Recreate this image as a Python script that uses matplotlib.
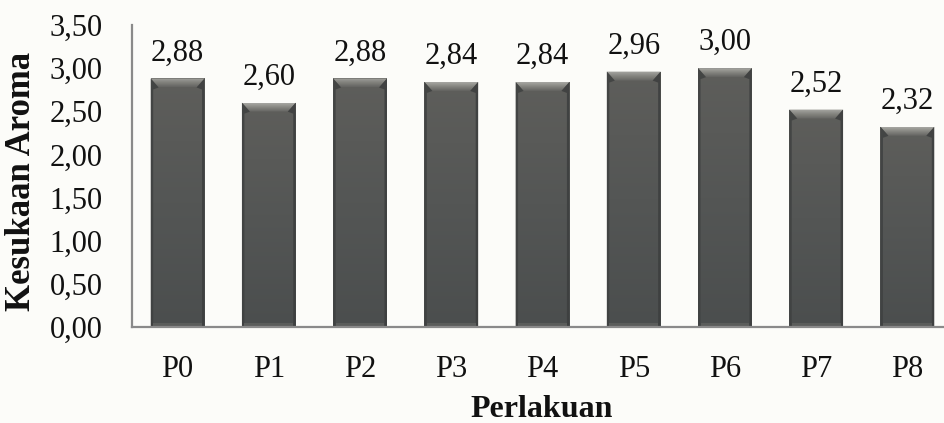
import numpy as np
import matplotlib
matplotlib.use("Agg")
import matplotlib.pyplot as plt
from matplotlib.patches import Polygon, Rectangle
from matplotlib.colors import LinearSegmentedColormap

# Data
categories = ["P0", "P1", "P2", "P3", "P4", "P5", "P6", "P7", "P8"]
scores = [2.88, 2.60, 2.88, 2.84, 2.84, 2.96, 3.00, 2.52, 2.32]
y_ticks = [0.0, 0.5, 1.0, 1.5, 2.0, 2.5, 3.0, 3.5]

plt.rcParams["font.family"] = ["Liberation Serif", "DejaVu Serif"]
FS = 22

W, H = 944, 423
fig = plt.figure(figsize=(W / 100, H / 100), dpi=100)
bg = "#fcfcf9"
fig.patch.set_facecolor(bg)

ax_left, ax_right, ax_top, ax_bottom = 132, 953, 25, 327
ax = fig.add_axes([ax_left / W, (H - ax_bottom) / H,
                   (ax_right - ax_left) / W, (ax_bottom - ax_top) / H])
ax.set_facecolor("none")

x = np.arange(len(categories))
bar_w = 0.59
ax.set_xlim(-0.5, len(categories) - 0.5)
ax.set_ylim(0, 3.5)

# pixel -> data unit conversions for the bevel sizes
px_x = len(categories) / (ax_right - ax_left)
px_y = 3.5 / (ax_bottom - ax_top)

grad = np.linspace(0, 1, 256).reshape(-1, 1)
bar_cmap = LinearSegmentedColormap.from_list("barfill", ["#4b4e4e", "#545655", "#5e5e5b"])
top_cmap = LinearSegmentedColormap.from_list("bevel", ["#636360", "#84847f", "#a8a8a4"])

bars = ax.bar(x, scores, width=bar_w, color="none", edgecolor="none", zorder=2)
for b, v in zip(bars, scores):
    x0, x1 = b.get_x(), b.get_x() + b.get_width()
    im = ax.imshow(grad, cmap=bar_cmap, aspect="auto", origin="lower",
                   extent=[x0, x1, 0, v], zorder=2, interpolation="bilinear")
    im.set_clip_path(b)
    bx, by = 8 * px_x, 9 * px_y
    # top bevel with a vertical gradient
    top = Polygon([[x0, v], [x1, v], [x1 - bx, v - by], [x0 + bx, v - by]],
                  closed=True, facecolor="none", edgecolor="none", zorder=3)
    ax.add_patch(top)
    tim = ax.imshow(grad, cmap=top_cmap, aspect="auto", origin="lower",
                    extent=[x0, x1, v - by, v], zorder=3, interpolation="bilinear")
    tim.set_clip_path(top)
    # side bevels
    sx = 2.5 * px_x
    ax.add_patch(Polygon([[x0, v], [x0 + bx, v - by], [x0 + sx, v - by - 2 * px_y],
                          [x0 + sx, 0], [x0, 0]],
                         closed=True, facecolor="#3f4141", edgecolor="none", zorder=3, alpha=0.85))
    ax.add_patch(Polygon([[x1, v], [x1 - bx, v - by], [x1 - sx, v - by - 2 * px_y],
                          [x1 - sx, 0], [x1, 0]],
                         closed=True, facecolor="#3c3e3e", edgecolor="none", zorder=3, alpha=0.85))
    # bottom band
    ax.add_patch(Rectangle((x0 + sx, 0), x1 - x0 - 2 * sx, 4 * px_y,
                           facecolor="#5b5d5b", edgecolor="none", zorder=3))
    ax.annotate(f"{v:.2f}".replace(".", ","), (b.get_x() + b.get_width() / 2, v),
                xytext=(0, 8), textcoords="offset points", ha="center", va="bottom",
                fontsize=FS, color="#111111", zorder=4)

ax.set_xticks(x)
ax.set_xticklabels(categories, fontsize=FS)
ax.set_yticks(y_ticks)
ax.set_yticklabels([f"{t:.2f}".replace(".", ",") for t in y_ticks], fontsize=FS)
ax.tick_params(axis="both", length=0, colors="#111111")
ax.tick_params(axis="y", pad=21)
ax.tick_params(axis="x", pad=20)

for s in ["top", "right"]:
    ax.spines[s].set_visible(False)
for s in ["left", "bottom"]:
    ax.spines[s].set_color("#8a8a8a")
    ax.spines[s].set_linewidth(1.6)
    ax.spines[s].set_zorder(5)

fig.text(22 / W, 1 - 181 / H, "Kesukaan Aroma", rotation=90, ha="center", va="center",
         fontsize=25, fontweight="bold", color="#111111")
fig.text(542 / W, 1 - 417 / H, "Perlakuan", ha="center", va="baseline",
         fontsize=23, fontweight="bold", color="#111111")

fig.savefig("out.png", dpi=100, facecolor=bg)
